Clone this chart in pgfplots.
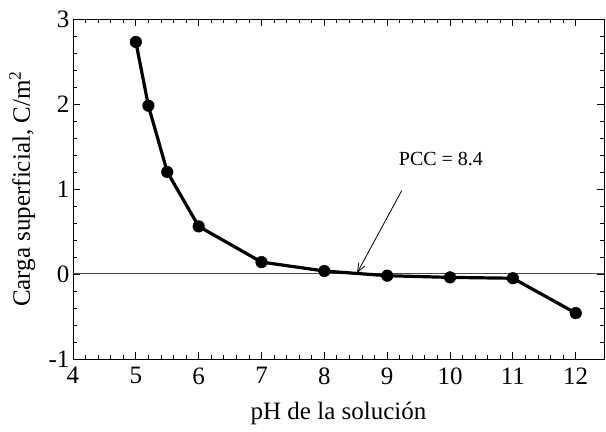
\documentclass[border=0pt]{standalone}
\usepackage{fontspec}
\setmainfont{Liberation Serif}
\usepackage{pgfplots}
\pgfplotsset{compat=1.18}
\usetikzlibrary{arrows.meta}
\begin{document}
\begin{tikzpicture}
\begin{axis}[
 scale only axis, width=531pt, height=340pt,
 xmin=4, xmax=12.45, ymin=-1, ymax=3,
 xtick={4,5,...,12}, ytick={-1,0,1,2,3},
 minor x tick num=4, minor y tick num=4,
 tick align=inside, major tick length=7pt, minor tick length=4pt,
 every tick/.style={black, line width=0.9pt},
 axis line style={line width=0.9pt},
 /pgf/number format/assume math mode=true,
 tick label style={font=\fontsize{25}{28}\selectfont},
 xticklabel style={yshift=-5pt},
 xlabel={pH de la solución}, ylabel={Carga superficial, C/m\textsuperscript{2}},
 label style={font=\fontsize{25}{28}\selectfont},
 xlabel style={at={(axis description cs:0.5,-0.1794)}, anchor=base},
 ylabel style={at={(axis description cs:-0.081,0.5)}, anchor=base},
 clip=false,
]
\addplot[black!70, line width=1pt, forget plot] coordinates {(4,0) (12.45,0)};
\addplot[black, line width=3.2pt, mark=*, mark size=5.8pt, mark options={line width=0.5pt}] coordinates {
(5,2.73) (5.2,1.98) (5.5,1.20) (6,0.56) (7,0.14) (8,0.035) (9,-0.02) (10,-0.04) (11,-0.05) (12,-0.46)};
\draw[-{Straight Barb[length=9pt,width=7pt,line width=0.8pt]}, line width=0.8pt] (axis cs:9.23,0.98) -- (axis cs:8.52,0.01);
\node[anchor=base west, font=\fontsize{20}{22}\selectfont] at (axis cs:9.13,1.28) {PCC = 8.4};
\end{axis}
\pgfresetboundingbox
\path (current axis.south west) ++(-73pt,-73pt) coordinate (bbA);
\path (current axis.north east) ++(2pt,19pt) coordinate (bbB);
\path[use as bounding box] (bbA) rectangle (bbB);
\end{tikzpicture}
\end{document}
